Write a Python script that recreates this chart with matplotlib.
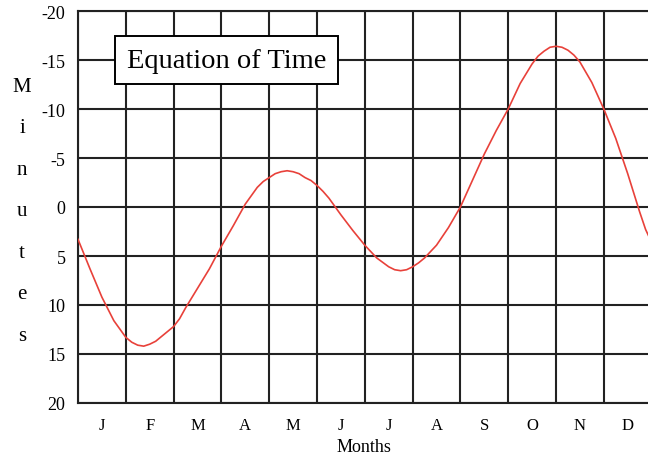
import numpy as np
import matplotlib
matplotlib.use("Agg")
import matplotlib.pyplot as plt

plt.rcParams['font.family'] = ['Liberation Serif', 'DejaVu Serif']
plt.rcParams['axes.unicode_minus'] = False

# month position (0 = 1 Jan, 12 = end of Dec) and minutes
month_pos = [0.00, 0.125, 0.25, 0.50, 0.75, 1.00, 1.125, 1.25, 1.375, 1.50, 1.625, 1.75, 1.875,
             2.00, 2.125, 2.25, 2.50, 2.75,
             3.00, 3.25, 3.50, 3.75, 3.875, 4.00, 4.125, 4.25, 4.375, 4.50, 4.625, 4.75, 4.875,
             5.00, 5.125, 5.25, 5.50, 5.75,
             6.00, 6.25, 6.50, 6.625, 6.75, 6.875, 7.00, 7.125, 7.25, 7.50, 7.75,
             8.00, 8.25, 8.50, 8.75,
             9.00, 9.25, 9.50, 9.625, 9.75, 9.875, 10.00, 10.125, 10.25, 10.375, 10.50, 10.75,
             11.00, 11.25, 11.50, 11.75, 11.875, 12.00]
minutes = [3.3, 4.8, 6.3, 9.2, 11.6, 13.3, 13.8, 14.1, 14.2, 14.0, 13.7, 13.2, 12.7,
           12.2, 11.4, 10.3, 8.3, 6.3,
           4.0, 1.9, -0.3, -2.0, -2.6, -3.0, -3.4, -3.6, -3.7, -3.6, -3.4, -3.0, -2.7,
           -2.2, -1.6, -0.9, 0.8, 2.4,
           3.9, 5.2, 6.1, 6.4, 6.5, 6.4, 6.1, 5.7, 5.2, 3.9, 2.1,
           0.0, -2.7, -5.4, -7.8,
           -10.0, -12.6, -14.6, -15.4, -15.9, -16.3, -16.4, -16.3, -16.0, -15.5, -14.8, -12.7,
           -10.0, -7.0, -3.4, 0.5, 2.3, 3.6]

month_labels = ['J', 'F', 'M', 'A', 'M', 'J', 'J', 'A', 'S', 'O', 'N', 'D']
y_ticks = [-20, -15, -10, -5, 0, 5, 10, 15, 20]
ylabel_letters = ['M', 'i', 'n', 'u', 't', 'e', 's']

W, H = 648, 460
fig = plt.figure(figsize=(W / 100, H / 100), dpi=100)
ax = fig.add_axes([78 / W, 56 / H, 573.6 / W, 392 / H])

grid_col = '#222222'
ax.plot(month_pos, minutes, color='#e8413a', lw=1.2, zorder=3)

ax.set_xlim(0, 12)
ax.set_ylim(20, -20)
ax.set_xticks(np.arange(0, 13))
ax.set_xticklabels([])
ax.set_xticks(np.arange(12) + 0.5, minor=True)
ax.set_xticklabels(month_labels, minor=True)
ax.set_yticks(y_ticks)
ax.set_yticklabels([str(v) for v in y_ticks])
ax.grid(True, which='major', color=grid_col, lw=1.5)
ax.tick_params(which='both', length=0)
ax.tick_params(axis='y', labelsize=13, pad=9)
ax.tick_params(axis='x', which='minor', labelsize=12, pad=10)
for s in ax.spines.values():
    s.set_color(grid_col)
    s.set_linewidth(1.5)
ax.spines['right'].set_visible(False)

# title box
fig.text(226.5 / W, 1 - 61 / H, 'Equation of Time', fontsize=20.5,
         ha='center', va='center', zorder=5,
         bbox=dict(boxstyle='square,pad=0.4', fc='white', ec='black', lw=1.4))

fig.text(364 / W, 1 - 448 / H, 'Months', fontsize=13, ha='center', va='center')

# vertical "Minutes" label, one letter per line
for k, ch in enumerate(ylabel_letters):
    fig.text(22 / W, 1 - (92 + 41.5 * k) / H, ch, fontsize=15,
             ha='center', va='baseline')

fig.savefig('out.png', dpi=100)
